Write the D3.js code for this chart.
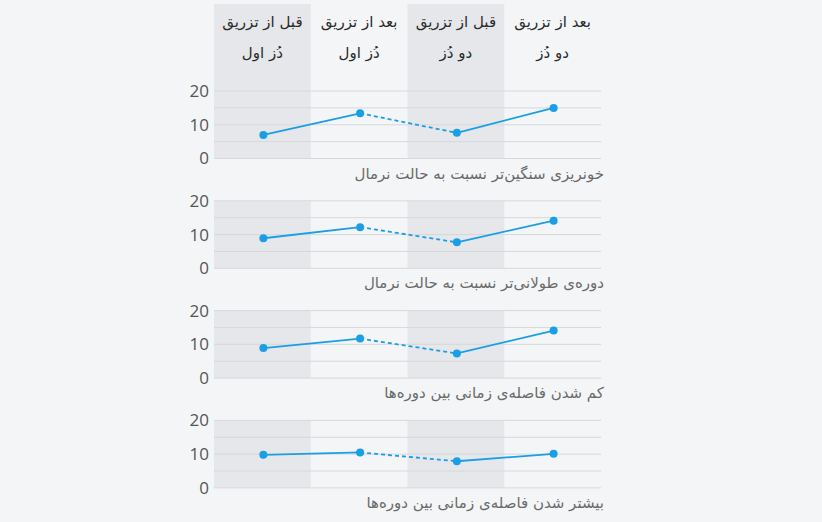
<!DOCTYPE html>
<html lang="fa">
<head>
<meta charset="utf-8">
<script src="https://cdn.jsdelivr.net/npm/d3@7"></script>
<style>
  body { margin: 0; background: #f3f5f7; }
  svg { display: block; }
  .hdr { font-family: "DejaVu Sans", sans-serif; font-size: 15px; fill: #2b2b2b; }
  .lbl { font-family: "DejaVu Sans", sans-serif; font-size: 15px; fill: #6a6a6a; }
  .tick text { font-family: "Open Sans", sans-serif; font-size: 17px; fill: #555; }
</style>
</head>
<body>
<div id="chart"></div>
<script>
let width = 822;
let height = 522;

// columns (left to right)
let headLine1 = ["قبل از تزریق", "بعد از تزریق", "قبل از تزریق", "بعد از تزریق"];
let headLine2 = ["دُز اول", "دُز اول", "دو دُز", "دو دُز"];

// one row per symptom
let rowLabels = [
  "خونریزی سنگین‌تر نسبت به حالت نرمال",
  "دوره‌ی طولانی‌تر نسبت به حالت نرمال",
  "کم شدن فاصله‌ی زمانی بین دوره‌ها",
  "بیشتر شدن فاصله‌ی زمانی بین دوره‌ها"
];
let heavierBleeding = [7.0, 13.4, 7.6, 15.0];
let longerPeriod = [8.9, 12.2, 7.7, 14.1];
let shorterGap = [8.9, 11.7, 7.3, 14.1];
let longerGap = [9.8, 10.5, 7.9, 10.1];
let rowValues = [heavierBleeding, longerPeriod, shorterGap, longerGap];

let tickLabels = [0, 10, 20];
let gridValues = [0, 5, 10, 15, 20];

let plotLeft = 214;
let plotRight = 601;
let firstTop = 91;
let panelHeight = 67.5;
let panelStep = 109.8;
let lineColor = "#1a9ee6";

let svg = d3.select("#chart").append("svg")
  .attr("width", width)
  .attr("height", height);

let x = d3.scaleBand()
  .domain(d3.range(headLine1.length))
  .range([plotLeft, plotRight])
  .padding(0);

// header bands for the first panel reach up to the top
let headTop = 4;

rowValues.forEach(function(vals, r) {
  let top = firstTop + r * panelStep;
  let y = d3.scaleLinear().domain([0, 20]).range([top + panelHeight, top]);
  let g = svg.append("g").attr("class", "panel");

  // shaded columns 1 and 3
  g.selectAll("rect.band")
    .data([0, 2])
    .enter().append("rect")
    .attr("class", "band")
    .attr("x", d => x(d))
    .attr("width", x.bandwidth())
    .attr("y", r === 0 ? headTop : y(20))
    .attr("height", r === 0 ? y(0) - headTop : y(0) - y(20))
    .attr("fill", "#e5e7ea");

  // gridlines
  g.selectAll("line.grid")
    .data(gridValues)
    .enter().append("line")
    .attr("class", "grid")
    .attr("x1", plotLeft)
    .attr("x2", plotRight)
    .attr("y1", d => y(d))
    .attr("y2", d => y(d))
    .attr("stroke", "#d6d9dc")
    .attr("stroke-width", 1);

  // y axis labels
  let axis = d3.axisLeft(y).tickValues(tickLabels).tickSize(0).tickPadding(4);
  g.append("g")
    .attr("transform", "translate(" + (plotLeft - 1) + ",0)")
    .call(axis)
    .call(a => a.select(".domain").remove());

  let pts = vals.map((v, i) => [x(i) + x.bandwidth() / 2 + 1, y(v)]);

  // solid segments, dashed one between doses
  let segs = [[0, 1, false], [1, 2, true], [2, 3, false]];
  g.selectAll("line.seg")
    .data(segs)
    .enter().append("line")
    .attr("class", "seg")
    .attr("x1", d => pts[d[0]][0])
    .attr("y1", d => pts[d[0]][1])
    .attr("x2", d => pts[d[1]][0])
    .attr("y2", d => pts[d[1]][1])
    .attr("stroke", lineColor)
    .attr("stroke-width", 1.8)
    .attr("stroke-dasharray", d => d[2] ? "4,3" : null);

  g.selectAll("circle")
    .data(pts)
    .enter().append("circle")
    .attr("cx", d => d[0])
    .attr("cy", d => d[1])
    .attr("r", 4)
    .attr("fill", lineColor);

  g.append("text")
    .attr("class", "lbl")
    .attr("x", plotRight + 3)
    .attr("y", y(0) + 20)
    .attr("text-anchor", "start")
    .attr("direction", "rtl")
    .text(rowLabels[r]);
});

// column headers
let head = svg.append("g").attr("class", "headers");
head.selectAll("text.h1")
  .data(headLine1)
  .enter().append("text")
  .attr("class", "hdr h1")
  .attr("x", (d, i) => x(i) + x.bandwidth() / 2)
  .attr("y", 27)
  .attr("text-anchor", "middle")
  .attr("direction", "rtl")
  .text(d => d);
head.selectAll("text.h2")
  .data(headLine2)
  .enter().append("text")
  .attr("class", "hdr h2")
  .attr("x", (d, i) => x(i) + x.bandwidth() / 2)
  .attr("y", 58)
  .attr("text-anchor", "middle")
  .attr("direction", "rtl")
  .text(d => d);
</script>
</body>
</html>
